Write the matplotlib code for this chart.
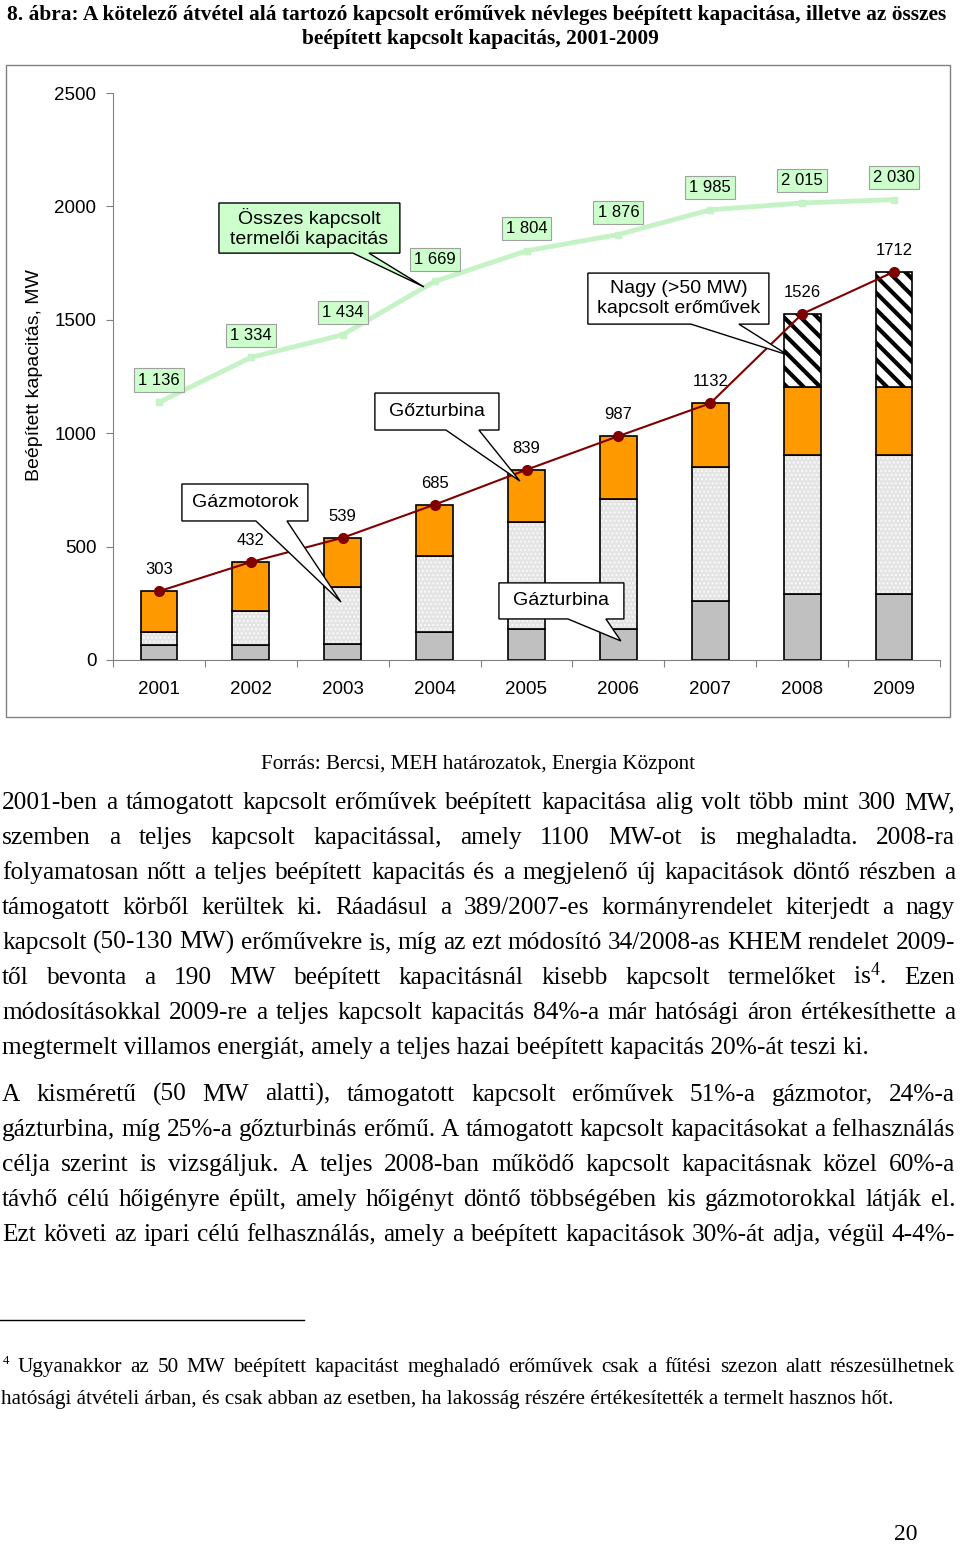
import numpy as np
import matplotlib
matplotlib.use('Agg')
import matplotlib.pyplot as plt
from matplotlib.patches import Rectangle, Polygon
from matplotlib.lines import Line2D

plt.rcParams['font.family'] = ['Liberation Sans', 'DejaVu Sans']
plt.rcParams['mathtext.fontset'] = 'custom'
plt.rcParams['mathtext.default'] = 'regular'
SERIF = ['Liberation Serif', 'DejaVu Serif']

# adatok (MW)
years = ['2001', '2002', '2003', '2004', '2005', '2006', '2007', '2008', '2009']
gazturbina = [66, 66, 72, 122, 135, 135, 260, 290, 290]
gazmotor = [56, 150, 248, 338, 475, 575, 592, 614, 614]
gozturbina = [181, 216, 219, 225, 229, 277, 280, 301, 301]
nagy = [0, 0, 0, 0, 0, 0, 0, 321, 507]
tamogatott = [303, 432, 539, 685, 839, 987, 1132, 1526, 1712]
osszes = [1136, 1334, 1434, 1669, 1804, 1876, 1985, 2015, 2030]

title_lines = ['8. ábra: A kötelező átvétel alá tartozó kapcsolt erőművek névleges beépített kapacitása, illetve az összes',
               'beépített kapcsolt kapacitás, 2001-2009']
source = 'Forrás: Bercsi, MEH határozatok, Energia Központ'
para1 = ['2001-ben a támogatott kapcsolt erőművek beépített kapacitása alig volt több mint 300 MW,',
         'szemben a teljes kapcsolt kapacitással, amely 1100 MW-ot is meghaladta. 2008-ra',
         'folyamatosan nőtt a teljes beépített kapacitás és a megjelenő új kapacitások döntő részben a',
         'támogatott körből kerültek ki. Ráadásul a 389/2007-es kormányrendelet kiterjedt a nagy',
         'kapcsolt (50-130 MW) erőművekre is, míg az ezt módosító 34/2008-as KHEM rendelet 2009-',
         'től bevonta a 190 MW beépített kapacitásnál kisebb kapcsolt termelőket is$^4$. Ezen',
         'módosításokkal 2009-re a teljes kapcsolt kapacitás 84%-a már hatósági áron értékesíthette a',
         'megtermelt villamos energiát, amely a teljes hazai beépített kapacitás 20%-át teszi ki.']
para2 = ['A kisméretű (50 MW alatti), támogatott kapcsolt erőművek 51%-a gázmotor, 24%-a',
         'gázturbina, míg 25%-a gőzturbinás erőmű. A támogatott kapcsolt kapacitásokat a felhasználás',
         'célja szerint is vizsgáljuk. A teljes 2008-ban működő kapcsolt kapacitásnak közel 60%-a',
         'távhő célú hőigényre épült, amely hőigényt döntő többségében kis gázmotorokkal látják el.',
         'Ezt követi az ipari célú felhasználás, amely a beépített kapacitások 30%-át adja, végül 4-4%-']
footnote = ['Ugyanakkor az 50 MW beépített kapacitást meghaladó erőművek csak a fűtési szezon alatt részesülhetnek',
            'hatósági átvételi árban, és csak abban az esetben, ha lakosság részére értékesítették a termelt hasznos hőt.']

W, H = 960, 1545
fig = plt.figure(figsize=(W / 100, H / 100), dpi=100)
renderer = fig.canvas.get_renderer()


def fx(px):
    return px / W


def fy(py):
    return 1 - py / H


def text_width(s, size, weight='normal'):
    t = fig.text(0, 0, s, fontsize=size, family=SERIF, weight=weight)
    w = t.get_window_extent(renderer).width
    t.remove()
    return w


def fit_size(lines, width, weight='normal', base=20.0):
    return min(base * width / text_width(s, base, weight) for s in lines)


def justify(line, ybase, x0, x1, size):
    words = line.split(' ')
    ws = [text_width(w, size) for w in words]
    gap = (x1 - x0 - sum(ws)) / (len(words) - 1)
    xp = x0
    for w, wd in zip(words, ws):
        fig.text(fx(xp), fy(ybase), w, fontsize=size, family=SERIF, va='baseline')
        xp += wd + gap


# cím
ts = fit_size(title_lines[:1], 937, 'bold')
fig.text(fx(477), fy(20), title_lines[0], fontsize=ts, family=SERIF, weight='bold', ha='center', va='baseline')
fig.text(fx(480), fy(44), title_lines[1], fontsize=ts, family=SERIF, weight='bold', ha='center', va='baseline')

# keret
fig.add_artist(Rectangle((fx(6), fy(717)), 944 / W, 652 / H, transform=fig.transFigure,
                         fill=False, edgecolor='#808080', lw=1))

# diagram
ax = fig.add_axes([fx(113), fy(660), 827 / W, 567 / H])
x = np.arange(len(years))
bw = 0.4
b0 = np.array(gazturbina)
b1 = b0 + np.array(gazmotor)
b2 = b1 + np.array(gozturbina)

ax.bar(x, gazturbina, bw, color='#c0c0c0', edgecolor='black', lw=1.2, zorder=2)
ax.bar(x, gazmotor, bw, bottom=b0, color='#e4e4e4', edgecolor='#fafafa', hatch='....', lw=0, zorder=2)
ax.bar(x, gazmotor, bw, bottom=b0, fill=False, edgecolor='black', lw=1.2, zorder=2)
ax.bar(x, gozturbina, bw, bottom=b1, color='#ff9900', edgecolor='black', lw=1.2, zorder=2)
mask = np.array(nagy) > 0
hb = ax.bar(x[mask], np.array(nagy)[mask], bw, bottom=b2[mask], color='white', edgecolor='black',
            hatch='\\\\', lw=1.2, zorder=2)
for p in hb:
    if hasattr(p, 'set_hatch_linewidth'):
        p.set_hatch_linewidth(3)

ax.plot(x, osszes, color='#c6f3c6', lw=3.5, marker='s', ms=5, zorder=4)
ax.plot(x, tamogatott, color='#800000', lw=1.5, marker='o', ms=7, zorder=5)

for xi, v in zip(x, osszes):
    ax.annotate(f'{v:,}'.replace(',', ' '), (xi, v), xytext=(0, 16), textcoords='offset points',
                ha='center', va='center', fontsize=12, zorder=6,
                bbox=dict(boxstyle='square,pad=0.25', fc='#ccffcc', ec='#a0a0a0', lw=0.8))
for xi, v in zip(x, tamogatott):
    ax.annotate(str(v), (xi, v), xytext=(0, 15.5), textcoords='offset points',
                ha='center', va='center', fontsize=12, zorder=6)


def callout(box, base, tip, text, fc='white'):
    x0, x1, y0, y1 = box
    pts = [(x0, y1), (x1, y1), (x1, y0), (base[1], y0), tip, (base[0], y0), (x0, y0)]
    ax.add_patch(Polygon(pts, closed=True, fc=fc, ec='black', lw=1, zorder=7, clip_on=False))
    ax.text((x0 + x1) / 2, (y0 + y1) / 2, text, ha='center', va='center', fontsize=14,
            linespacing=1.25, zorder=8)


callout((0.653, 2.622, 1794, 2015), (2.111, 2.285), (2.884, 1645), 'Összes kapcsolt\ntermelői kapacitás', '#ccffcc')
callout((0.250, 1.621, 613, 776), (1.055, 1.393), (1.980, 256), 'Gázmotorok')
callout((2.350, 3.700, 1014, 1177), (3.123, 3.482), (3.928, 789), 'Gőzturbina')
callout((3.700, 5.060, 181, 340), (4.450, 4.864), (5.027, 84), 'Gázturbina')
callout((4.668, 6.638, 1481, 1706), (5.789, 6.311), (6.844, 1345), 'Nagy (>50 MW)\nkapcsolt erőművek')

ax.set_xlim(-0.5, 8.5)
ax.set_ylim(0, 2500)
for s in ['top', 'right']:
    ax.spines[s].set_visible(False)
for s in ['left', 'bottom']:
    ax.spines[s].set_color('#808080')
ax.set_yticks(range(0, 2501, 500))
ax.tick_params(axis='y', direction='out', length=5, color='#808080', pad=7, labelsize=13.5)
ax.set_xticks(np.arange(-0.5, 9, 1))
ax.set_xticklabels([])
ax.set_xticks(x, minor=True)
ax.set_xticklabels(years, minor=True)
ax.tick_params(axis='x', which='major', direction='out', length=5, color='#808080')
ax.tick_params(axis='x', which='minor', length=0, pad=15, labelsize=13.5)
fig.text(fx(35), fy(375), 'Beépített kapacitás, MW', rotation=90, ha='center', va='center', fontsize=14)

# forrás
ss = fit_size([source], 433)
fig.text(fx(478), fy(769), source, fontsize=ss, family=SERIF, ha='center', va='baseline')

# szöveg
body = para1[:-1] + para2
bs = fit_size(body, 953)
for i, line in enumerate(para1):
    yb = 809 + 35 * i
    if i < len(para1) - 1:
        justify(line, yb, 2, 955, bs)
    else:
        fig.text(fx(2), fy(yb), line, fontsize=bs, family=SERIF, va='baseline')
for i, line in enumerate(para2):
    justify(line, 1101 + 35 * i, 2, 955, bs)

# lábjegyzet
fig.add_artist(Line2D([fx(0), fx(304)], [fy(1320), fy(1320)], color='black', lw=1))
fs = min(fit_size(footnote[1:], 888), fit_size(footnote[:1], 937))
fig.text(fx(3), fy(1364), '4', fontsize=fs * 0.6, family=SERIF, va='baseline')
justify(footnote[0], 1372, 18, 955, fs)
fig.text(fx(1), fy(1404), footnote[1], fontsize=fs, family=SERIF, va='baseline')

fig.text(fx(906), fy(1540), '20', fontsize=17, family=SERIF, ha='center', va='baseline')

fig.savefig('out.png', dpi=100, facecolor='white')
